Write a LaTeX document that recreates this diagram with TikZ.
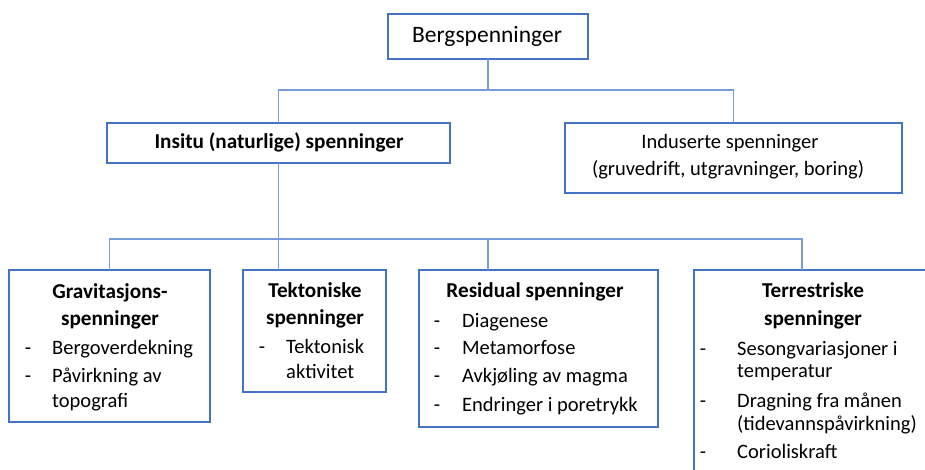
\documentclass[tikz,border=0pt]{standalone}
\usepackage{fontspec}
\setmainfont{Carlito}
\usepackage{tikz}
\usepackage{xcolor}

\definecolor{boxblue}{HTML}{4472C4}
\definecolor{linkblue}{HTML}{7A9BDB}

\begin{document}
\begin{tikzpicture}[x=1pt, y=-1pt,
    font=\fontsize{20.5}{24}\selectfont,
    box/.style n args={2}{draw=boxblue, line width=2.4pt, fill=white,
      outer sep=0pt, inner sep=0pt, anchor=north west,
      minimum width=#1pt, minimum height=#2pt},
    link/.style={draw=linkblue, line width=1.3pt},
    txt/.style={anchor=mid, yshift=-3.5pt},
    head/.style={txt, font=\fontsize{21.2}{25}\selectfont\bfseries},
    item/.style={anchor=mid west, yshift=-3.5pt, inner sep=0pt},
    bullet/.style={txt, inner sep=0pt}]

  % page
  \clip (0,0) rectangle (925,470);
  \fill[white] (0,0) rectangle (925,470);

  % the boxes
  \node[box={200}{45}]  (berg)   at (388,14)  {};
  \node[box={343}{40}]  (insitu) at (107,123) {};
  \node[box={337}{70}]  (indus)  at (565,123) {};
  \node[box={201}{152}] (grav)   at (9,270)   {};
  \node[box={143}{122}] (tekt)   at (243,270) {};
  \node[box={239}{157}] (resid)  at (419,270) {};
  \node[box={250}{230}] (terr)   at (694,270) {};

  % connectors
  \coordinate (top bus) at (488,90);
  \coordinate (low bus) at (279,239);
  \coordinate (terr drop) at (802,270);
  \draw[link] (berg.south) -- (top bus);
  \draw[link] (insitu.north) |- (top bus) -| (indus.north);
  \draw[link] (insitu.south) -- (insitu.south |- tekt.north);
  \draw[link] (grav.north) |- (low bus) -| (terr drop);
  \draw[link] (berg.south |- low bus) -- (berg.south |- resid.north);

  % top levels
  \node[txt, font=\fontsize{23.5}{28}\selectfont] (bergT) at (487,37) {Bergspenninger};
  \node[head] (insituT) at (279,143) {Insitu (naturlige) spenninger};
  \node[txt] (indusT1) at (730,143) {Induserte spenninger};
  \node[txt] (indusT2) at (728,170) {(gruvedrift, utgravninger, boring)};

  % gravitasjon
  \node[head] (gravT1) at (110,293) {Gravitasjons-};
  \node[head] (gravT2) at (110,320) {spenninger};
  \node[bullet] (gravD1) at (28,349) {-};
  \node[item] (gravA)  at (52,349) {Bergoverdekning};
  \node[bullet] (gravD2) at (28,377) {-};
  \node[item] (gravB1) at (52,377) {Påvirkning av};
  \node[item] (gravB2) at (52,402) {topografi};

  % tektonisk
  \node[head] (tektT1) at (315,292) {Tektoniske};
  \node[head] (tektT2) at (315,319) {spenninger};
  \node[bullet] (tektD1) at (262,348) {-};
  \node[item] (tektA1) at (286,348) {Tektonisk};
  \node[item] (tektA2) at (286,373) {aktivitet};

  % residual
  \node[head] (residT) at (535,292) {Residual spenninger};
  \foreach \y/\txt [count=\i] in {322/Diagenese, 349/Metamorfose,
      377/Avkjøling av magma, 406/Endringer i poretrykk} {
    \node[bullet] (residD\i) at (437,\y) {-};
    \node[item] (residA\i) at (462,\y) {\txt};
  }

  % terrestrisk
  \node[head] (terrT1) at (813,292) {Terrestriske};
  \node[head] (terrT2) at (813,320) {spenninger};
  \node[bullet] (terrD1) at (703,350) {-};
  \node[item] (terrA1) at (737,350) {Sesongvariasjoner i};
  \node[item] (terrA2) at (737,372) {temperatur};
  \node[bullet] (terrD2) at (703,402) {-};
  \node[item] (terrB1) at (737,402) {Dragning fra månen};
  \node[item] (terrB2) at (737,425) {(tidevannspåvirkning)};
  \node[bullet] (terrD3) at (703,453) {-};
  \node[item] (terrC)  at (737,453) {Corioliskraft};

\end{tikzpicture}
\end{document}
